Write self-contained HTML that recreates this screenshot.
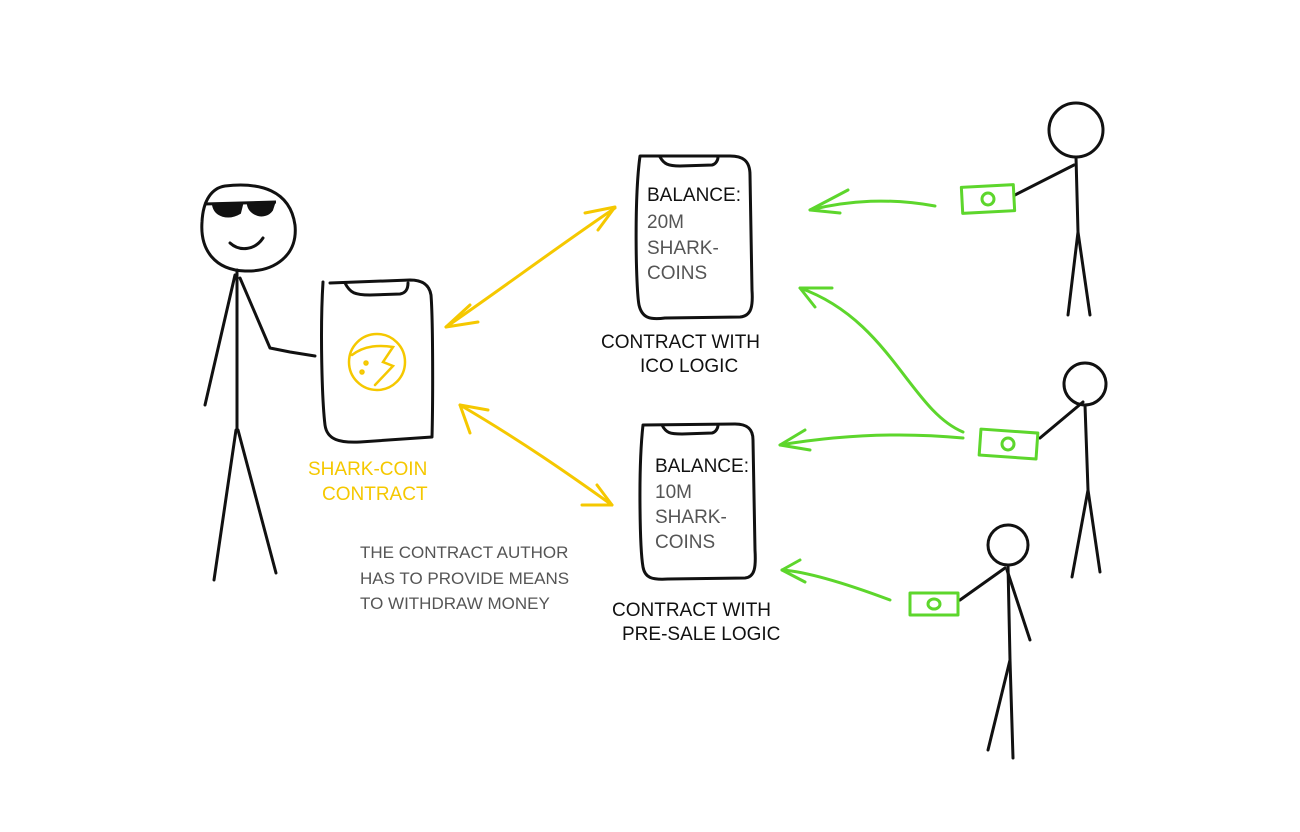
<!DOCTYPE html>
<html><head><meta charset="utf-8"><style>
html,body{margin:0;padding:0;background:#fff;}
svg{display:block;}
text{font-family:"Liberation Sans",sans-serif;font-size:19px;}
</style></head><body>
<svg width="1300" height="832" viewBox="0 0 1300 832" xmlns="http://www.w3.org/2000/svg">
<g fill="none" stroke="#111" stroke-width="3" stroke-linecap="round" stroke-linejoin="round">
<!-- left figure -->
<path d="M225 186 C260 182 290 190 295 225 C298 255 275 272 245 271 C215 270 200 250 202 222 C203 200 212 188 225 186"/>
<path d="M230 243 C240 252 255 250 263 238"/>
<path d="M237 270 L237 430"/>
<path d="M235 275 L205 405"/>
<path d="M240 278 L270 348 L290 352 L315 356"/>
<path d="M236 430 L214 580"/>
<path d="M238 430 L276 573"/>
<!-- left phone -->
<path d="M323 282 C320 330 322 400 325 425 C327 440 340 443 360 442 L432 437 C433 400 433 320 431 295 C429 283 420 280 410 280 L330 283"/>
<path d="M345 283 C350 293 355 295 370 295 L400 294 C405 293 408 290 408 283"/>
<!-- top phone -->
<path d="M640 156 C634 200 636 290 639 305 C642 318 650 320 665 318 L740 317 C752 316 753 305 752 290 L750 175 C750 160 742 156 730 156 Z"/>
<path d="M660 157 C664 164 668 166 680 166 L712 165 C716 164 718 160 718 157"/>
<!-- bottom phone -->
<path d="M643 425 C638 470 640 550 643 567 C645 578 652 580 668 579 L745 578 C755 577 756 567 755 550 L753 440 C753 428 746 424 735 424 Z"/>
<path d="M662 425 C666 433 670 434 682 434 L712 433 C716 432 718 428 718 425"/>
<!-- right figures -->
<circle cx="1076" cy="130" r="27"/>
<path d="M1076 157 L1078 232 L1068 315"/>
<path d="M1078 232 L1090 315"/>
<path d="M1074 165 L1015 195"/>
<circle cx="1085" cy="384" r="21"/>
<path d="M1085 405 L1088 490 L1072 577"/>
<path d="M1088 490 L1100 572"/>
<path d="M1083 402 L1040 438"/>
<circle cx="1008" cy="545" r="20"/>
<path d="M1008 565 L1010 660 L988 750"/>
<path d="M1010 660 L1013 758"/>
<path d="M1007 570 L1030 640"/>
<path d="M1005 568 L960 600"/>
</g>
<!-- sunglasses -->
<g fill="#111" stroke="#111" stroke-width="2">
<path d="M204 204 L276 202" stroke-width="3" fill="none"/>
<path d="M213 205 C215 216 228 220 240 213 L242 205 Z"/>
<path d="M248 205 C250 215 265 220 272 210 L274 204 Z"/>
</g>
<!-- coin -->
<g fill="none" stroke="#f5c800" stroke-width="2.5" stroke-linecap="round">
<circle cx="377" cy="362" r="28"/>
<path d="M352 355 C365 345 380 345 393 347 L383 362 L393 366 L375 385"/>
<circle cx="366" cy="363" r="1.5"/><circle cx="362" cy="372" r="1.5"/>
</g>
<!-- yellow arrows -->
<g fill="none" stroke="#f5c800" stroke-width="3" stroke-linecap="round" stroke-linejoin="round">
<path d="M446 327 C500 290 560 245 615 208"/>
<path d="M585 213 L615 207 L598 230"/>
<path d="M470 305 L446 327 L478 322"/>
<path d="M460 405 C520 440 570 475 612 505"/>
<path d="M470 433 L460 405 L488 410"/>
<path d="M582 505 L612 505 L597 485"/>
</g>
<!-- green arrows -->
<g fill="none" stroke="#5dd62c" stroke-width="3" stroke-linecap="round" stroke-linejoin="round">
<path d="M935 206 C890 198 850 200 810 210"/>
<path d="M848 190 L810 210 L840 213"/>
<path d="M963 432 C910 410 890 320 800 288"/>
<path d="M815 307 L800 288 L832 288"/>
<path d="M963 438 C900 432 840 435 780 445"/>
<path d="M805 430 L780 445 L810 450"/>
<path d="M890 600 C850 585 810 572 782 570"/>
<path d="M800 560 L782 570 L805 582"/>
<!-- money -->
<rect x="962" y="186" width="52" height="26" transform="rotate(-3 988 199)"/>
<ellipse cx="988" cy="199" rx="6" ry="6"/>
<rect x="980" y="431" width="57" height="26" transform="rotate(4 1008 444)"/>
<ellipse cx="1008" cy="444" rx="6" ry="6"/>
<rect x="910" y="593" width="48" height="22"/>
<ellipse cx="934" cy="604" rx="6" ry="5"/>
</g>
<!-- text -->
<text x="308" y="475" fill="#f5c800">SHARK-COIN</text>
<text x="322" y="500" fill="#f5c800">CONTRACT</text>
<text x="647" y="201" fill="#111">BALANCE:</text>
<text x="647" y="228" fill="#555">20M</text>
<text x="647" y="254" fill="#555">SHARK-</text>
<text x="647" y="279" fill="#555">COINS</text>
<text x="601" y="348" fill="#111">CONTRACT WITH</text>
<text x="640" y="372" fill="#111">ICO LOGIC</text>
<text x="655" y="472" fill="#111">BALANCE:</text>
<text x="655" y="498" fill="#555">10M</text>
<text x="655" y="523" fill="#555">SHARK-</text>
<text x="655" y="548" fill="#555">COINS</text>
<text x="612" y="616" fill="#111">CONTRACT WITH</text>
<text x="622" y="640" fill="#111">PRE-SALE LOGIC</text>
<text x="360" y="558" fill="#555" style="font-size:17px">THE CONTRACT AUTHOR</text>
<text x="360" y="584" fill="#555" style="font-size:17px">HAS TO PROVIDE MEANS</text>
<text x="360" y="609" fill="#555" style="font-size:17px">TO WITHDRAW MONEY</text>
</svg>
</body></html>
